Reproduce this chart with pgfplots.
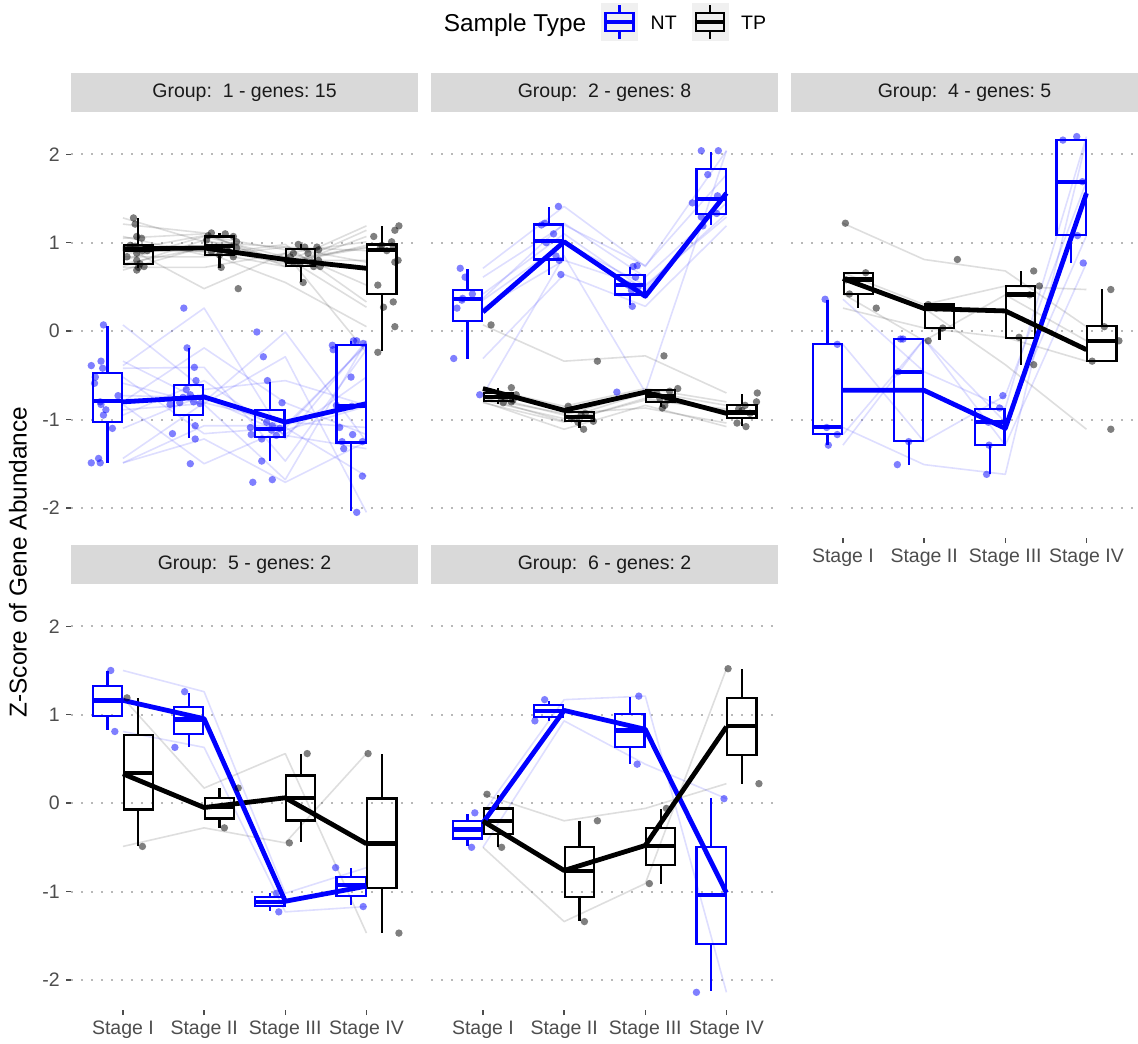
\documentclass[border=0pt]{standalone}
\usepackage{fontspec}
\setmainfont{Liberation Sans}
\usepackage{pgfplots}
\pgfplotsset{compat=1.18}
\usepackage{pgfplotstable}
\usepgfplotslibrary{statistics}
\definecolor{g30}{HTML}{4D4D4D}
\definecolor{g10}{HTML}{1A1A1A}
\definecolor{g85}{HTML}{D9D9D9}
\definecolor{gridc}{HTML}{B8B8B8}
\definecolor{ntc}{HTML}{0000FF}
\definecolor{ptc}{HTML}{000000}
\frenchspacing

% ---------- data: g = gene, s = stage, x = jittered position, y = z-score
\pgfplotstableread{
g s x y
1 1 0.76 0.07
1 2 1.78 -0.66
1 3 2.78 -0.56
1 4 3.63 -0.84
2 1 0.61 -0.39
2 2 1.75 0.26
2 3 2.71 -1.22
2 4 3.88 -0.11
3 1 0.73 -0.34
3 2 1.87 -0.80
3 3 2.65 -0.01
3 4 3.70 -1.25
4 1 0.75 -0.42
4 2 1.88 -0.41
4 3 2.71 -1.47
4 4 3.59 -0.21
5 1 0.66 -0.52
5 2 1.61 -1.16
5 3 2.57 -1.09
5 4 3.95 -1.64
6 1 0.65 -0.59
6 2 1.58 -0.83
6 3 2.84 -1.68
6 4 3.84 -0.11
7 1 0.72 -0.80
7 2 1.79 -0.19
7 3 2.96 -0.81
7 4 3.83 -1.17
8 1 0.73 -0.83
8 2 1.83 -1.50
8 3 2.93 -1.10
8 4 3.96 -0.14
9 1 0.79 -0.89
9 2 1.95 -0.82
9 3 2.73 -0.29
9 4 3.88 -2.05
10 1 0.76 -0.95
10 2 1.90 -0.56
10 3 2.89 -1.18
10 4 3.72 -1.33
11 1 0.94 -0.73
11 2 1.74 -0.75
11 3 2.58 -1.17
11 4 3.81 -0.52
12 1 0.87 -1.10
12 2 1.83 -0.72
12 3 2.83 -1.12
12 4 3.82 -0.85
13 1 0.61 -1.49
13 2 1.89 -1.07
13 3 2.84 -1.07
13 4 3.58 -0.16
14 1 0.70 -1.44
14 2 1.70 -0.81
14 3 2.77 -1.03
14 4 3.67 -1.09
15 1 0.72 -1.49
15 2 1.89 -1.22
15 3 2.60 -1.71
15 4 3.95 -1.25
}\pAnt

\pgfplotstableread{
g s x y
1 1 1.13 1.28
1 2 2.40 1.01
1 3 3.39 0.95
1 4 4.35 0.78
2 1 1.15 1.21
2 2 2.09 1.11
2 3 3.35 0.73
2 4 4.35 1.14
3 1 1.17 1.07
3 2 2.19 0.86
3 3 3.16 0.98
3 4 4.33 0.33
4 1 1.23 1.05
4 2 2.26 1.10
4 3 3.10 0.78
4 4 4.17 0.94
5 1 1.09 0.97
5 2 2.42 0.48
5 3 3.10 0.88
5 4 4.14 -0.24
6 1 1.17 0.88
6 2 2.28 0.94
6 3 3.33 0.78
6 4 4.40 1.19
7 1 1.24 0.91
7 2 2.05 1.08
7 3 3.41 0.92
7 4 4.14 0.52
8 1 1.30 0.91
8 2 2.30 0.90
8 3 3.43 0.73
8 4 4.09 1.07
9 1 1.05 0.84
9 2 2.36 0.84
9 3 3.24 0.95
9 4 4.25 0.91
10 1 1.17 0.80
10 2 2.36 1.07
10 3 3.06 0.84
10 4 4.21 0.27
11 1 1.26 0.73
11 2 2.03 1.03
11 3 3.02 0.80
11 4 4.33 0.95
12 1 1.17 0.69
12 2 2.15 0.95
12 3 3.18 0.76
12 4 4.19 0.97
13 1 1.19 0.72
13 2 2.21 0.72
13 3 3.28 0.88
13 4 4.31 1.01
14 1 1.21 0.76
14 2 2.40 0.94
14 3 3.41 0.80
14 4 4.39 0.80
15 1 1.15 0.96
15 2 2.09 0.90
15 3 3.22 0.55
15 4 4.35 0.05
}\pAtp

\pgfplotstableread{
g s x y
1 1 0.72 0.71
1 2 1.93 1.41
1 3 2.85 0.73
1 4 3.69 2.04
2 1 0.78 0.61
2 2 1.72 1.20
2 3 2.90 0.74
2 4 3.77 1.77
3 1 0.75 0.37
3 2 1.76 1.22
3 3 2.88 0.61
3 4 3.58 1.45
4 1 0.87 0.42
4 2 1.87 1.10
4 3 2.83 0.46
4 4 3.89 1.53
5 1 0.68 0.26
5 2 1.94 0.80
5 3 2.91 0.50
5 4 3.88 1.33
6 1 0.64 -0.31
6 2 1.96 0.64
6 3 2.84 0.28
6 4 3.71 1.19
7 1 0.96 -0.72
7 2 1.90 0.85
7 3 2.65 -0.69
7 4 3.90 2.04
8 1 0.74 0.35
8 2 1.78 1.00
8 3 2.79 0.52
8 4 3.69 1.29
}\pBnt

\pgfplotstableread{
g s x y
1 1 1.10 0.07
1 2 2.41 -0.34
1 3 3.23 -0.28
1 4 4.38 -0.70
2 1 1.35 -0.64
2 2 2.05 -0.85
2 3 3.40 -0.65
2 4 4.37 -0.80
3 1 1.41 -0.72
3 2 2.21 -0.95
3 3 3.30 -0.68
3 4 4.23 -0.84
4 1 1.27 -0.76
4 2 2.26 -0.93
4 3 3.21 -0.87
4 4 4.13 -1.04
5 1 1.35 -0.80
5 2 2.24 -1.11
5 3 3.24 -0.84
5 4 4.24 -1.08
6 1 1.25 -0.81
6 2 2.17 -1.03
6 3 3.18 -0.76
6 4 4.19 -0.90
7 1 1.37 -0.78
7 2 2.09 -0.99
7 3 3.14 -0.70
7 4 4.29 -0.93
8 1 1.22 -0.75
8 2 2.36 -1.02
8 3 3.28 -0.78
8 4 4.15 -0.88
}\pBtp

\pgfplotstableread{
g s x y
1 1 0.78 0.36
1 2 1.68 -0.46
1 3 2.93 -0.87
1 4 3.88 2.20
2 1 0.93 -0.15
2 2 1.81 -1.25
2 3 2.97 -0.73
2 4 3.95 1.69
3 1 0.80 -1.09
3 2 1.67 -1.51
3 3 2.77 -1.62
3 4 3.71 2.16
4 1 0.93 -1.17
4 2 1.74 -0.09
4 3 2.79 -1.03
4 4 3.89 1.08
5 1 0.82 -1.29
5 2 1.71 -0.09
5 3 2.80 -1.29
5 4 3.96 0.77
}\pCnt

\pgfplotstableread{
g s x y
1 1 1.03 1.22
1 2 2.41 0.81
1 3 3.35 0.68
1 4 4.22 0.05
2 1 1.28 0.66
2 2 2.05 0.30
2 3 3.42 0.51
2 4 4.30 0.47
3 1 1.04 0.58
3 2 2.15 0.26
3 3 3.35 -0.38
3 4 4.30 -1.11
4 1 1.08 0.42
4 2 2.05 -0.11
4 3 3.30 0.41
4 4 4.40 -0.11
5 1 1.41 0.26
5 2 2.23 0.035
5 3 3.17 -0.07
5 4 4.07 -0.34
}\pCtp

\pgfplotstableread{
g s x y
1 1 0.85 1.50
1 2 1.76 1.26
1 3 2.89 -1.02
1 4 3.62 -0.73
2 1 0.90 0.81
2 2 1.64 0.63
2 3 2.92 -1.23
2 4 3.96 -1.17
}\pDnt

\pgfplotstableread{
g s x y
1 1 1.05 1.19
1 2 2.42 0.17
1 3 3.27 0.56
1 4 4.40 -1.47
2 1 1.24 -0.49
2 2 2.25 -0.28
2 3 3.05 -0.45
2 4 4.02 0.56
}\pDtp

\pgfplotstableread{
g s x y
1 1 0.90 -0.11
1 2 1.76 1.17
1 3 2.92 1.21
1 4 3.63 -2.14
2 1 0.86 -0.50
2 2 1.64 0.93
2 3 2.90 0.44
2 4 3.97 0.05
}\pEnt

\pgfplotstableread{
g s x y
1 1 1.05 0.10
1 2 2.41 -0.20
1 3 3.26 -0.06
1 4 4.40 0.22
2 1 1.23 -0.50
2 2 2.25 -1.34
2 3 3.05 -0.91
2 4 4.02 1.52
}\pEtp

% ---------- helpers
\newcommand{\genes}[3]{%
  \pgfplotsinvokeforeach{1,...,#2}{%
    \addplot[#3, draw opacity=0.13, line width=1.6pt, line join=round,
      restrict expr to domain={\thisrow{g}}{##1:##1}] table[x=s,y=y]{#1};}}
\newcommand{\pts}[2]{%
  \addplot[draw=none, only marks, mark=*, mark size=3.7pt,
    mark options={draw=none, draw opacity=0, fill=#2, fill opacity=0.5}] table[x=x,y=y]{#1};}
\newcommand{\bxp}[7]{%
  \addplot[#1, line width=2.2pt, boxplot prepared={draw direction=y, draw position=#2,
    lower whisker=#3, lower quartile=#4, median=#5, upper quartile=#6,
    upper whisker=#7, box extend=0.36, whisker extend=0,
    every median/.style={line width=4.4pt}}] coordinates {};}
\newcommand{\lkey}[1]{%
  \fill[black!6] (0pt,-16.8pt) rectangle (36pt,20.2pt);
  \draw[#1, line width=2.2pt] (4pt,-7.3pt) rectangle (32pt,10.7pt);
  \draw[#1, line width=4pt] (4pt,1.7pt) -- (32pt,1.7pt);
  \draw[#1, line width=2.2pt] (18pt,10.7pt) -- (18pt,18.7pt) (18pt,-7.3pt) -- (18pt,-15.3pt);}

\newcommand{\fs}{\fontsize{19.5}{23.4}\selectfont}
\newcommand{\fl}{\fontsize{24.4}{29}\selectfont}

\pgfplotsset{
  panel/.style={
    scale only axis, width=347pt, height=420pt, anchor=south west,
    xmin=0.36, xmax=4.635, ymin=-2.34, ymax=2.41,
    axis line style={draw=none},
    xtick={1,2,3,4}, ytick={-2,-1,0,1,2},
    yticklabels={-2,-1,0,1,2},
    xticklabels={Stage I,Stage II,Stage III,Stage IV},
    xtick pos=bottom, ytick pos=left,
    tick align=outside, major tick length=5pt,
    tick style={draw=g30, line width=1.4pt},
    ymajorgrids,
    major grid style={draw=gridc, line width=2pt, dash pattern=on 2pt off 8pt},
    ticklabel style={font=\fs, text=g30, inner sep=0pt},
    yticklabel shift=6pt, xticklabel shift=6pt,
    title style={at={(0.5,1)}, anchor=south, yshift=0pt, fill=g85,
      minimum width=347pt, minimum height=39pt, inner sep=0pt,
      font=\fs, text=g10},
  },
  noy/.style={yticklabels={}, y tick style={draw=none}},
  nox/.style={xtick=\empty},
}

\begin{document}
\begin{tikzpicture}
\useasboundingbox (0pt,0pt) rectangle (1138pt,-1044pt);

\node[rotate=90, font=\fl, text=black] at (18pt,-562pt) {Z-Score of Gene Abundance};

% ---------------- Panel 1
\begin{axis}[panel, nox, at={(71pt,-538pt)}, title={Group:~~1 - genes: 15},
  legend style={at={(1.52,1.229)}, anchor=center, draw=none, fill=none,
    legend columns=-1, font=\fs,
    nodes={inner sep=0pt},
    /tikz/every odd column/.append style={column sep=13pt},
    /tikz/every even column/.append style={column sep=15pt}}]
\addlegendimage{empty legend}
\addlegendentry{\fl Sample Type}
\addlegendimage{legend image code/.code={\lkey{ntc}}}
\addlegendentry{NT}
\addlegendimage{legend image code/.code={\lkey{black}}}
\addlegendentry{TP}
\genes{\pAnt}{15}{ntc}
\genes{\pAtp}{15}{ptc}
\bxp{ntc}{0.81}{-1.49}{-1.03}{-0.79}{-0.47}{0.06}
\bxp{ntc}{1.81}{-1.21}{-0.95}{-0.76}{-0.61}{-0.19}
\bxp{ntc}{2.81}{-1.47}{-1.20}{-1.11}{-0.89}{-0.58}
\bxp{ntc}{3.81}{-2.03}{-1.26}{-0.85}{-0.16}{-0.11}
\bxp{ptc}{1.19}{0.71}{0.76}{0.92}{0.97}{1.28}
\bxp{ptc}{2.19}{0.71}{0.86}{0.96}{1.07}{1.11}
\bxp{ptc}{3.19}{0.55}{0.74}{0.78}{0.93}{0.98}
\bxp{ptc}{4.19}{-0.23}{0.42}{0.92}{0.98}{1.19}
\pts{\pAnt}{ntc}
\pts{\pAtp}{ptc}
\addplot[ntc, line width=4.8pt, line join=round] coordinates {(1,-0.80)(2,-0.745)(3,-1.03)(4,-0.82)};
\addplot[ptc, line width=4.8pt, line join=round] coordinates {(1,0.93)(2,0.94)(3,0.81)(4,0.71)};
\end{axis}

% ---------------- Panel 2
\begin{axis}[panel, nox, noy, at={(431pt,-538pt)}, title={Group:~~2 - genes: 8}]
\genes{\pBnt}{8}{ntc}
\genes{\pBtp}{8}{ptc}
\bxp{ntc}{0.81}{-0.31}{0.114}{0.36}{0.462}{0.70}
\bxp{ntc}{1.81}{0.639}{0.809}{1.016}{1.205}{1.404}
\bxp{ntc}{2.81}{0.292}{0.413}{0.518}{0.631}{0.725}
\bxp{ntc}{3.81}{1.197}{1.321}{1.491}{1.834}{2.026}
\bxp{ptc}{1.19}{-0.82}{-0.794}{-0.745}{-0.696}{-0.643}
\bxp{ptc}{2.19}{-1.10}{-1.02}{-0.97}{-0.915}{-0.90}
\bxp{ptc}{3.19}{-0.86}{-0.80}{-0.737}{-0.67}{-0.65}
\bxp{ptc}{4.19}{-1.077}{-0.983}{-0.92}{-0.84}{-0.715}
\pts{\pBnt}{ntc}
\pts{\pBtp}{ptc}
\addplot[ntc, line width=4.8pt, line join=round] coordinates {(1,0.216)(2,1.01)(3,0.394)(4,1.56)};
\addplot[ptc, line width=4.8pt, line join=round] coordinates {(1,-0.65)(2,-0.896)(3,-0.69)(4,-0.93)};
\end{axis}

% ---------------- Panel 3
\begin{axis}[panel, noy, at={(791pt,-538pt)}, title={Group:~~4 - genes: 5}]
\genes{\pCnt}{5}{ntc}
\genes{\pCtp}{5}{ptc}
\bxp{ntc}{0.81}{-1.29}{-1.167}{-1.085}{-0.149}{0.356}
\bxp{ntc}{1.81}{-1.51}{-1.247}{-0.462}{-0.089}{-0.089}
\bxp{ntc}{2.81}{-1.62}{-1.29}{-1.03}{-0.877}{-0.73}
\bxp{ntc}{3.81}{0.77}{1.084}{1.687}{2.158}{2.17}
\bxp{ptc}{1.19}{0.261}{0.416}{0.583}{0.657}{0.657}
\bxp{ptc}{2.19}{-0.104}{0.035}{0.26}{0.30}{0.30}
\bxp{ptc}{3.19}{-0.379}{-0.074}{0.413}{0.51}{0.676}
\bxp{ptc}{4.19}{-0.342}{-0.342}{-0.112}{0.054}{0.473}
\pts{\pCnt}{ntc}
\pts{\pCtp}{ptc}
\addplot[ntc, line width=4.8pt, line join=round] coordinates {(1,-0.67)(2,-0.67)(3,-1.10)(4,1.56)};
\addplot[ptc, line width=4.8pt, line join=round] coordinates {(1,0.594)(2,0.255)(3,0.228)(4,-0.21)};
\end{axis}

% ---------------- Panel 4
\begin{axis}[panel, at={(71pt,-1010pt)}, title={Group:~~5 - genes: 2}]
\genes{\pDnt}{2}{ntc}
\genes{\pDtp}{2}{ptc}
\bxp{ntc}{0.81}{0.822}{0.984}{1.162}{1.324}{1.493}
\bxp{ntc}{1.81}{0.633}{0.784}{0.947}{1.09}{1.248}
\bxp{ntc}{2.81}{-1.22}{-1.165}{-1.116}{-1.063}{-1.015}
\bxp{ntc}{3.81}{-1.15}{-1.052}{-0.928}{-0.837}{-0.739}
\bxp{ptc}{1.19}{-0.486}{-0.072}{0.343}{0.769}{1.184}
\bxp{ptc}{2.19}{-0.279}{-0.173}{-0.045}{0.06}{0.173}
\bxp{ptc}{3.19}{-0.438}{-0.196}{0.06}{0.313}{0.558}
\bxp{ptc}{4.19}{-1.467}{-0.958}{-0.456}{0.053}{0.558}
\pts{\pDnt}{ntc}
\pts{\pDtp}{ptc}
\addplot[ptc, line width=4.8pt, line join=round] coordinates {(1,0.331)(2,-0.05)(3,0.06)(4,-0.46)};
\addplot[ntc, line width=4.8pt, line join=round] coordinates {(1,1.162)(2,0.954)(3,-1.11)(4,-0.939)};
\end{axis}

% ---------------- Panel 5
\begin{axis}[panel, noy, at={(431pt,-1010pt)}, title={Group:~~6 - genes: 2}]
\genes{\pEnt}{2}{ntc}
\genes{\pEtp}{2}{ptc}
\bxp{ntc}{0.81}{-0.486}{-0.40}{-0.298}{-0.204}{-0.12}
\bxp{ntc}{1.81}{0.928}{0.973}{1.04}{1.105}{1.16}
\bxp{ntc}{2.81}{0.437}{0.633}{0.822}{1.01}{1.20}
\bxp{ntc}{3.81}{-2.127}{-1.59}{-1.04}{-0.494}{0.053}
\bxp{ptc}{1.19}{-0.498}{-0.347}{-0.204}{-0.06}{0.09}
\bxp{ptc}{2.19}{-1.335}{-1.06}{-0.769}{-0.494}{-0.204}
\bxp{ptc}{3.19}{-0.913}{-0.701}{-0.486}{-0.279}{-0.072}
\bxp{ptc}{4.19}{0.219}{0.543}{0.871}{1.191}{1.512}
\pts{\pEnt}{ntc}
\pts{\pEtp}{ptc}
\addplot[ntc, line width=4.8pt, line join=round] coordinates {(1,-0.222)(2,1.048)(3,0.834)(4,-1.015)};
\addplot[ptc, line width=4.8pt, line join=round] coordinates {(1,-0.204)(2,-0.762)(3,-0.479)(4,0.863)};
\end{axis}
\end{tikzpicture}
\end{document}
